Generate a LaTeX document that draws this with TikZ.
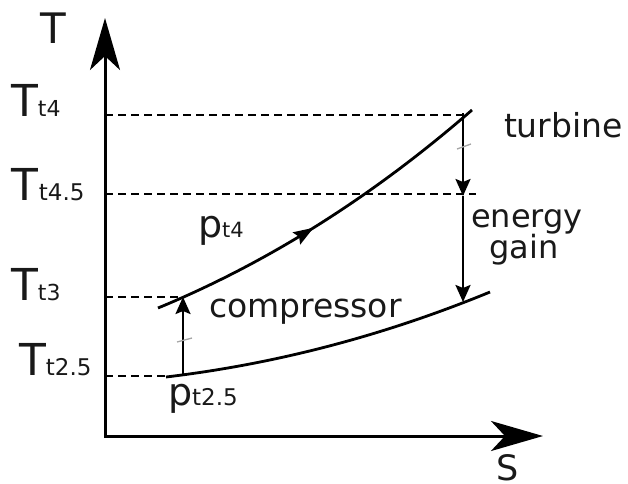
\documentclass[tikz,border=0pt]{standalone}
\usepackage{fontspec}
\setmainfont{DejaVu Sans}
\usetikzlibrary{arrows.meta,decorations.markings}
\newcommand{\fs}[1]{\fontsize{#1}{#1}\selectfont}
\tikzset{
  axis/.style={line width=3pt, line join=miter, arrows={Stealth[length=52pt,width=30pt,inset=14pt]-Stealth[length=52pt,width=30pt,inset=14pt]}},
  curve/.style={line width=2.8pt},
  guide/.style={line width=2.2pt, dash pattern=on 8pt off 5pt},
  change/.style={line width=2.4pt, -{Stealth[length=17pt,width=15pt,inset=3pt]}},
  tickmark/.style={draw=gray!70, line width=1.3pt},
  lbl/.style={inner sep=0pt, outer sep=0pt, text=black!90},
  midarrow/.style={decoration={markings, mark=at position 0.47 with {\arrow{Stealth[length=20pt,width=14pt,inset=3pt]}}}, postaction={decorate}}
}
\begin{document}
\begin{tikzpicture}[x=1pt,y=-1pt]
\useasboundingbox (0,0) rectangle (628,483);
% axes
\coordinate (Ytop) at (105,18);
\coordinate (O) at (105,436);
\coordinate (Xend) at (543,436);
\draw[axis] (Ytop) -- (O) -- (Xend);
\node[lbl, anchor=base west] (Tlab) at (40,43) {\fs{42}T};
\node[lbl, anchor=base west] (Slab) at (496,480) {\fs{35}S};
% curves
\coordinate (U0) at (158,308);
\coordinate (U1c) at (267,263);
\coordinate (U2c) at (372,197);
\coordinate (U1) at (472,110);
\coordinate (L0) at (166,377);
\coordinate (L1c) at (275,364);
\coordinate (L2c) at (383,336);
\coordinate (L1) at (490,292);
\draw[curve, midarrow] (U0) .. controls (U1c) and (U2c) .. (U1);
\draw[curve] (L0) .. controls (L1c) and (L2c) .. (L1);
% guide points
\coordinate (A4) at (105,115);
\coordinate (B4) at (465,115);
\coordinate (A45) at (105,194);
\coordinate (B45) at (476,194);
\coordinate (A3) at (105,297);
\coordinate (B3) at (183,297);
\coordinate (A25) at (105,376);
\coordinate (B25) at (172,376);
\draw[guide] (A4) -- (B4);
\draw[guide] (A45) -- (B45);
\draw[guide] (A3) -- (B3);
\draw[guide] (A25) -- (B25);
% process arrows
\coordinate (C0) at (183,375);
\coordinate (C1) at (183,297);
\draw[change] (C0) -- (C1);
\coordinate (D0) at (463,113);
\coordinate (D1) at (463,196);
\coordinate (D2) at (463,302);
\draw[change] (D0) -- (D1);
\draw[change] (D1) -- (D2);
% small tick marks
\coordinate (k1a) at (177,342);
\coordinate (k1b) at (192,338);
\draw[tickmark] (k1a) -- (k1b);
\coordinate (k2a) at (457,149);
\coordinate (k2b) at (471,144);
\draw[tickmark] (k2a) -- (k2b);
% temperature labels
\node[lbl, anchor=base west] (Tt4) at (11,116) {\fs{44}T\fs{22}t4};
\node[lbl, anchor=base west] (Tt45) at (12,200) {\fs{44}T\fs{23}t4.5};
\node[lbl, anchor=base west] (Tt3) at (11,300) {\fs{44}T\fs{22}t3};
\node[lbl, anchor=base west] (Tt25) at (19,375) {\fs{44}T\fs{23}t2.5};
% pressure labels
\node[lbl, anchor=base west] (pt4) at (198,237) {\fs{38}p\fs{21}t4};
\node[lbl, anchor=base west] (pt25) at (168,405) {\fs{38}p\fs{23}t2.5};
% text labels
\node[lbl, anchor=base west] (turb) at (504,137) {\fs{33}turbine};
\node[lbl, anchor=base] (energy) at (527,227) {\fs{32}energy};
\node[lbl, anchor=base] (gain) at (524,258) {\fs{32}gain};
\node[lbl, anchor=base west] (comp) at (209,317) {\fs{33}compressor};
\end{tikzpicture}
\end{document}
